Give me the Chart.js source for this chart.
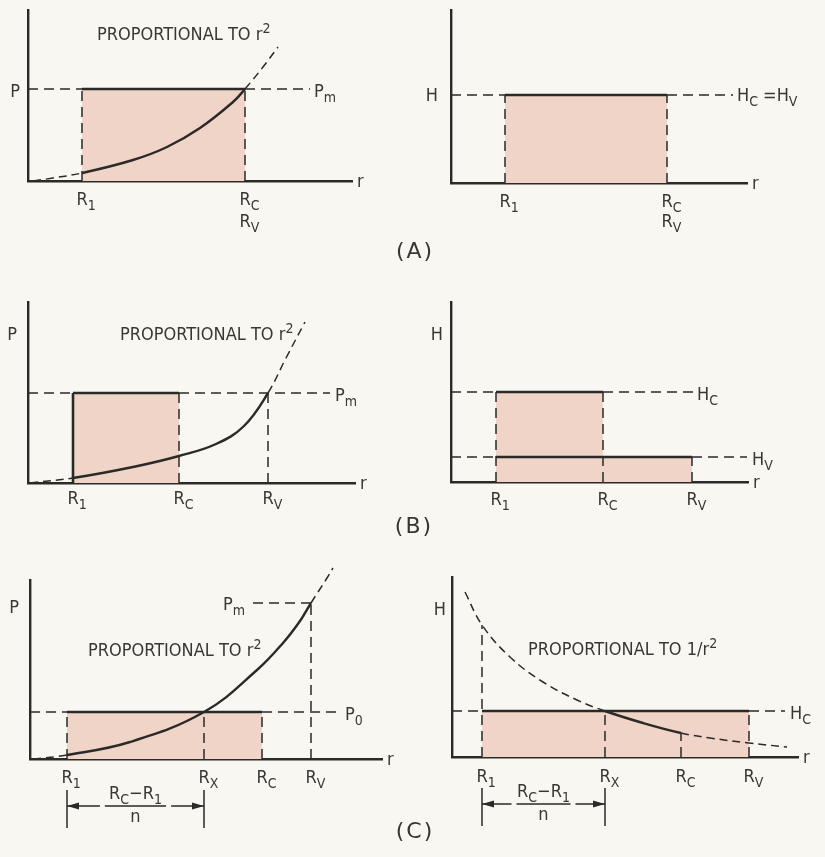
<!DOCTYPE html>
<html>
<head>
<meta charset="utf-8">
<script src="https://cdn.jsdelivr.net/npm/chart.js@4.4.0/dist/chart.umd.min.js"></script>
<style>
  html, body { margin: 0; padding: 0; background: #f9f7f2; }
  #wrap { position: relative; width: 825px; height: 857px; overflow: hidden; }
  #wrap canvas { position: absolute; left: 0; top: 0; }
</style>
</head>
<body>
<div id="wrap">
  <canvas id="aL" width="825" height="857"></canvas>
  <canvas id="aR" width="825" height="857"></canvas>
  <canvas id="bL" width="825" height="857"></canvas>
  <canvas id="bR" width="825" height="857"></canvas>
  <canvas id="cL" width="825" height="857"></canvas>
  <canvas id="cR" width="825" height="857"></canvas>
</div>
<script>
// values, in px from each panel's origin (r right, P/H up)

// (A) left: P against r
const aRadii  = [54, 217];                 // R1, RC = RV
const aLevels = [92];                      // Pm
const aCurveR = [5, 25, 54, 105, 139, 172, 205, 217, 235, 250];
const aCurveP = [0, 3, 8, 21, 34, 53, 79, 92, 114, 134];
// (A) right: H against r
const aHRadii  = [54, 216];                // R1, RC = RV
const aHLevels = [88];                     // HC = HV
// (B) left
const bRadii  = [45, 151, 240];            // R1, RC, RV
const bLevels = [90];                      // Pm
const bCurveR = [2, 45, 105, 151, 188, 216, 240, 258, 277];
const bCurveP = [0, 5, 16, 27, 39, 57, 90, 125, 161];
// (B) right
const bHRadii  = [45, 152, 241];           // R1, RC, RV
const bHLevels = [90, 25];                 // HC, HV
// (C) left
const cRadii  = [37, 174, 232, 281];       // R1, RX, RC, RV
const cLevels = [47, 156];                 // P0, Pm
const cCurveR = [3, 37, 100, 174, 227, 253, 270, 281, 297, 303];
const cCurveP = [0, 4, 17, 47, 89, 116, 138, 156, 181, 191];
// (C) right
const cHRadii  = [30, 153, 229, 297];      // R1, RX, RC, RV
const cHLevels = [46];                     // HC
const cHCurveR = [13, 30, 58, 91, 125, 153, 191, 229, 258, 297, 335];
const cHCurveH = [165, 132, 100, 75, 57, 46, 34, 24, 19, 14, 10];

const INK  = "#2b2a28";
const TEXT = "#393734";
const FILL = "#f0d4c7";
const FACE = '"Liberation Sans Narrow", "DejaVu Sans Condensed", "Arial Narrow", sans-serif';

Chart.defaults.animation = false;

const pts = (xs, ys) => xs.map((x, i) => ({ x, y: ys[i] }));

function line(p, dashed) {
  return { data: p, borderColor: INK, borderWidth: dashed ? 1.5 : 2.6,
           borderDash: dashed ? [10, 6] : [], pointRadius: 0, fill: false,
           tension: 0, clip: false };
}
function area(p) {
  return { data: p, borderWidth: 0, borderColor: "rgba(0,0,0,0)", backgroundColor: FILL,
           fill: "origin", pointRadius: 0, tension: 0, order: 5, clip: false };
}
function curve(xs, ys, lo, hi) {
  const inside = c => c.p0.parsed.x >= lo && c.p1.parsed.x <= hi;
  return { data: pts(xs, ys), borderColor: INK, borderWidth: 2.4, pointRadius: 0,
           fill: false, tension: 0.4, clip: false,
           segment: { borderDash: c => inside(c) ? [] : [8, 5],
                      borderWidth: c => inside(c) ? 2.4 : 1.5 } };
}

// text helpers: kind 0 normal, 1 subscript, 2 superscript
function pieces(ctx, list, x, y, align) {
  const fonts = [`18px ${FACE}`, `14px ${FACE}`, `14px ${FACE}`];
  const dy = [0, 5, -7];
  let w = 0;
  for (const [t, k] of list) { ctx.font = fonts[k]; w += ctx.measureText(t).width; }
  let cx = align === "center" ? x - w / 2 : align === "right" ? x - w : x;
  ctx.textAlign = "left";
  ctx.textBaseline = "alphabetic";
  for (const [t, k] of list) {
    ctx.font = fonts[k];
    ctx.fillText(t, cx, y + dy[k]);
    cx += ctx.measureText(t).width;
  }
}
function rLab(ctx, sub, x, y) {
  ctx.font = `18px ${FACE}`;
  const w = ctx.measureText("R").width;
  pieces(ctx, [["R", 0], [sub, 1]], x - w / 2, y, "left");
}
function caseLab(ctx, s, x, y) {
  ctx.font = '22px "DejaVu Sans", sans-serif';
  ctx.letterSpacing = "2px";
  ctx.textAlign = "center";
  ctx.fillText(s, x, y);
  ctx.letterSpacing = "0px";
}
function dim(ctx, xa, xb, y0) {
  // dimension mark (RC-R1)/n below the axis
  ctx.strokeStyle = INK;
  ctx.fillStyle = INK;
  ctx.lineWidth = 1.5;
  ctx.beginPath();
  ctx.moveTo(xa, y0 + 31); ctx.lineTo(xa, y0 + 69);
  ctx.moveTo(xb, y0 + 31); ctx.lineTo(xb, y0 + 69);
  const ya = y0 + 47, L = (xb - xa) * 0.24;
  ctx.moveTo(xa, ya); ctx.lineTo(xa + L, ya);
  ctx.moveTo(xa + L + 5, ya); ctx.lineTo(xb - L - 5, ya);
  ctx.moveTo(xb - L, ya); ctx.lineTo(xb, ya);
  ctx.stroke();
  ctx.beginPath();
  ctx.moveTo(xa, ya); ctx.lineTo(xa + 12, ya - 3.5); ctx.lineTo(xa + 12, ya + 3.5); ctx.closePath();
  ctx.moveTo(xb, ya); ctx.lineTo(xb - 12, ya - 3.5); ctx.lineTo(xb - 12, ya + 3.5); ctx.closePath();
  ctx.fill();
  ctx.fillStyle = TEXT;
  pieces(ctx, [["R", 0], ["C", 1], ["\u2212", 0], ["R", 0], ["1", 1]], (xa + xb) / 2, y0 + 40, "center");
  pieces(ctx, [["n", 0]], (xa + xb) / 2, y0 + 63, "center");
}

function panel(id, pad, xmax, ymax, datasets, draw) {
  const axis = max => ({
    type: "linear", min: 0, max,
    grid: { display: false, drawTicks: false },
    ticks: { display: false },
    border: { display: true, color: INK, width: 2.4 }
  });
  return new Chart(document.getElementById(id), {
    type: "line",
    data: { datasets },
    options: {
      responsive: false,
      events: [],
      layout: { padding: pad },
      plugins: { legend: { display: false }, tooltip: { enabled: false } },
      scales: { x: axis(xmax), y: axis(ymax) }
    },
    plugins: [{
      id: "text_" + id,
      afterDraw(chart) {
        const c = chart.ctx;
        c.save();
        c.fillStyle = TEXT;
        draw(c, chart.scales.x, chart.scales.y);
        c.restore();
      }
    }]
  });
}

// ---- (A) left ----
{
  const [r1, rc] = aRadii, [pm] = aLevels;
  panel("aL", { left: 28, top: 10, right: 473, bottom: 676 }, 324, 171, [
    area(pts([r1, r1, rc, rc], [0, pm, pm, 0])),
    line(pts([r1, rc], [pm, pm])),
    line(pts([0, r1], [pm, pm]), true),
    line(pts([rc, 282], [pm, pm]), true),
    line(pts([r1, r1], [0, pm]), true),
    line(pts([rc, rc], [0, pm]), true),
    curve(aCurveR, aCurveP, r1, rc)
  ], (c, x, y) => {
    const y0 = y.getPixelForValue(0);
    pieces(c, [["PROPORTIONAL TO r", 0], ["2", 2]], 97, 40, "left");
    pieces(c, [["P", 0]], 20, y.getPixelForValue(pm) + 8, "right");
    pieces(c, [["P", 0], ["m", 1]], x.getPixelForValue(282) + 4, y.getPixelForValue(pm) + 8, "left");
    pieces(c, [["r", 0]], x.right + 5, y0 + 6, "left");
    rLab(c, "1", x.getPixelForValue(r1), y0 + 24);
    rLab(c, "C", x.getPixelForValue(rc), y0 + 24);
    rLab(c, "V", x.getPixelForValue(rc), y0 + 46);
    caseLab(c, "(A)", 415, 258);
  });
}

// ---- (A) right ----
{
  const [r1, rc] = aHRadii, [h] = aHLevels;
  panel("aR", { left: 451, top: 10, right: 78, bottom: 674 }, 296, 173, [
    area(pts([r1, r1, rc, rc], [0, h, h, 0])),
    line(pts([r1, rc], [h, h])),
    line(pts([0, r1], [h, h]), true),
    line(pts([rc, 282], [h, h]), true),
    line(pts([r1, r1], [0, h]), true),
    line(pts([rc, rc], [0, h]), true)
  ], (c, x, y) => {
    const y0 = y.getPixelForValue(0);
    pieces(c, [["H", 0]], 438, y.getPixelForValue(h) + 6, "right");
    pieces(c, [["H", 0], ["C", 1], [" =", 0], ["H", 0], ["V", 1]], x.getPixelForValue(282) + 4, y.getPixelForValue(h) + 6, "left");
    pieces(c, [["r", 0]], x.right + 5, y0 + 6, "left");
    rLab(c, "1", x.getPixelForValue(r1), y0 + 24);
    rLab(c, "C", x.getPixelForValue(rc), y0 + 24);
    rLab(c, "V", x.getPixelForValue(rc), y0 + 44);
  });
}

// ---- (B) left ----
{
  const [r1, rc, rv] = bRadii, [pm] = bLevels;
  panel("bL", { left: 28, top: 302, right: 470, bottom: 374 }, 327, 181, [
    area(pts([r1, r1, rc, rc], [0, pm, pm, 0])),
    line(pts([r1, rc], [pm, pm])),
    line(pts([r1, r1], [0, pm])),
    line(pts([0, r1], [pm, pm]), true),
    line(pts([rc, 302], [pm, pm]), true),
    line(pts([rc, rc], [0, pm]), true),
    line(pts([rv, rv], [0, pm]), true),
    curve(bCurveR, bCurveP, r1, rv)
  ], (c, x, y) => {
    const y0 = y.getPixelForValue(0);
    pieces(c, [["PROPORTIONAL TO r", 0], ["2", 2]], 120, 340, "left");
    pieces(c, [["P", 0]], 17, 340, "right");
    pieces(c, [["P", 0], ["m", 1]], x.getPixelForValue(302) + 5, y.getPixelForValue(pm) + 8, "left");
    pieces(c, [["r", 0]], x.right + 5, y0 + 6, "left");
    rLab(c, "1", x.getPixelForValue(r1), y0 + 21);
    rLab(c, "C", x.getPixelForValue(rc), y0 + 21);
    rLab(c, "V", x.getPixelForValue(rv), y0 + 21);
    caseLab(c, "(B)", 414, 533);
  });
}

// ---- (B) right ----
{
  const [r1, rc, rv] = bHRadii, [hc, hv] = bHLevels;
  panel("bR", { left: 451, top: 302, right: 77, bottom: 375 }, 297, 180, [
    area(pts([r1, r1, rc, rc, rv, rv], [0, hc, hc, hv, hv, 0])),
    line(pts([r1, rc], [hc, hc])),
    line(pts([r1, rv], [hv, hv])),
    line(pts([0, r1], [hc, hc]), true),
    line(pts([rc, 242], [hc, hc]), true),
    line(pts([0, r1], [hv, hv]), true),
    line(pts([rv, 296], [hv, hv]), true),
    line(pts([r1, r1], [0, hc]), true),
    line(pts([rc, rc], [0, hc]), true),
    line(pts([rv, rv], [0, hv]), true)
  ], (c, x, y) => {
    const y0 = y.getPixelForValue(0);
    pieces(c, [["H", 0]], 443, 340, "right");
    pieces(c, [["H", 0], ["C", 1]], x.getPixelForValue(242) + 4, y.getPixelForValue(hc) + 8, "left");
    pieces(c, [["H", 0], ["V", 1]], x.getPixelForValue(296) + 5, y.getPixelForValue(hv) + 8, "left");
    pieces(c, [["r", 0]], x.right + 5, y0 + 6, "left");
    rLab(c, "1", x.getPixelForValue(r1), y0 + 23);
    rLab(c, "C", x.getPixelForValue(rc), y0 + 23);
    rLab(c, "V", x.getPixelForValue(rv), y0 + 23);
  });
}

// ---- (C) left ----
{
  const [r1, rx, rc, rv] = cRadii, [p0, pm] = cLevels;
  panel("cL", { left: 30, top: 580, right: 443, bottom: 98 }, 352, 179, [
    area(pts([r1, r1, rc, rc], [0, p0, p0, 0])),
    line(pts([r1, rc], [p0, p0])),
    line(pts([0, r1], [p0, p0]), true),
    line(pts([rc, 310], [p0, p0]), true),
    line(pts([223, rv], [pm, pm]), true),
    line(pts([r1, r1], [0, p0]), true),
    line(pts([rx, rx], [0, p0]), true),
    line(pts([rc, rc], [0, p0]), true),
    line(pts([rv, rv], [0, pm]), true),
    curve(cCurveR, cCurveP, r1, rv)
  ], (c, x, y) => {
    const y0 = y.getPixelForValue(0);
    pieces(c, [["PROPORTIONAL TO r", 0], ["2", 2]], 88, 656, "left");
    pieces(c, [["P", 0]], 19, 613, "right");
    pieces(c, [["P", 0], ["m", 1]], x.getPixelForValue(223) - 8, y.getPixelForValue(pm) + 7, "right");
    pieces(c, [["P", 0], ["0", 1]], x.getPixelForValue(310) + 5, y.getPixelForValue(p0) + 8, "left");
    pieces(c, [["r", 0]], x.right + 5, y0 + 6, "left");
    rLab(c, "1", x.getPixelForValue(r1), y0 + 24);
    rLab(c, "X", x.getPixelForValue(rx), y0 + 24);
    rLab(c, "C", x.getPixelForValue(rc), y0 + 24);
    rLab(c, "V", x.getPixelForValue(rv), y0 + 24);
    dim(c, x.getPixelForValue(r1), x.getPixelForValue(rx), y0);
    caseLab(c, "(C)", 415, 838);
  });
}

// ---- (C) right ----
{
  const [r1, rx, rc, rv] = cHRadii, [hc] = cHLevels;
  panel("cR", { left: 452, top: 577, right: 27, bottom: 100 }, 346, 180, [
    area(pts([r1, r1, rv, rv], [0, hc, hc, 0])),
    line(pts([r1, rv], [hc, hc])),
    line(pts([0, r1], [hc, hc]), true),
    line(pts([rv, 333], [hc, hc]), true),
    line(pts([r1, r1], [0, cHCurveH[1]]), true),
    line(pts([rx, rx], [0, hc]), true),
    line(pts([rc, rc], [0, cHCurveH[7]]), true),
    line(pts([rv, rv], [0, hc]), true),
    curve(cHCurveR, cHCurveH, rx, rc)
  ], (c, x, y) => {
    const y0 = y.getPixelForValue(0);
    pieces(c, [["PROPORTIONAL TO 1/r", 0], ["2", 2]], 528, 655, "left");
    pieces(c, [["H", 0]], 446, 615, "right");
    pieces(c, [["H", 0], ["C", 1]], x.getPixelForValue(333) + 5, y.getPixelForValue(hc) + 8, "left");
    pieces(c, [["r", 0]], x.right + 5, y0 + 6, "left");
    rLab(c, "1", x.getPixelForValue(r1), y0 + 25);
    rLab(c, "X", x.getPixelForValue(rx), y0 + 25);
    rLab(c, "C", x.getPixelForValue(rc), y0 + 25);
    rLab(c, "V", x.getPixelForValue(rv), y0 + 25);
    dim(c, x.getPixelForValue(r1), x.getPixelForValue(rx), y0);
  });
}
</script>
</body>
</html>
